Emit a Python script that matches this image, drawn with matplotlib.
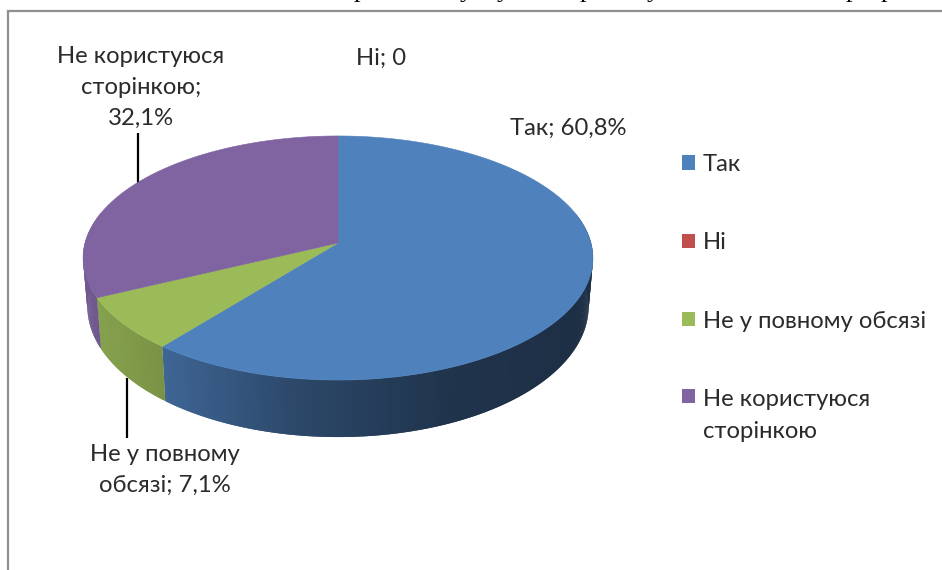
import numpy as np
import matplotlib
matplotlib.use("Agg")
import matplotlib.pyplot as plt
from matplotlib.patches import Patch, Polygon

categories = ["Так", "Ні", "Не у повному обсязі", "Не користуюся\nсторінкою"]
values = [60.8, 0, 7.1, 32.1]
colors = ["#4F81BD", "#C0504D", "#9BBB59", "#8064A2"]
label_texts = ["Так; 60,8%", "Ні; 0", "Не у повному\nобсязі; 7,1%", "Не користуюся\nсторінкою;\n32,1%"]
label_xy = [(568, 128), (381, 58), (165, 470), (141, 87)]
clipped_letters = ["р", "у", "у", "р", "у", "р", "р"]
clipped_x = [360, 466, 503, 586, 653, 852, 887]

FONT = ["Lato", "Open Sans", "DejaVu Sans"]
TXT = "#2b2b2b"
FS = 17.2

fig = plt.figure(figsize=(9.42, 5.70), dpi=100)
ax = fig.add_axes([0, 0, 1, 1])
ax.set_xlim(0, 942)
ax.set_ylim(570, 0)
ax.axis("off")

# pie geometry (perspective projection of a disc)
CX, CY, R, A, K = 338, 243, 253, 120.2, 0.123
DY, SY, SX = 47.4, 1.07, 0.983


def top_rim(theta):
    u, v = np.sin(theta), -np.cos(theta)
    d = 1 - K * v
    return CX + R * u / d, CY + A * v / d


def bottom_rim(theta):
    x, y = top_rim(theta)
    return CX + SX * (x - CX), CY + DY + SY * (y - CY)


def shade(x):
    return np.interp(x, [83, 165, 300, 450, 593], [0.88, 0.78, 0.55, 0.40, 0.36])


fractions = np.array(values) / sum(values)
edges = np.concatenate([[0], np.cumsum(fractions)]) * 2 * np.pi

# side walls: overlapping quads so no seams show in the gradient
for i, col in enumerate(colors):
    if values[i] == 0:
        continue
    base = np.array(matplotlib.colors.to_rgb(col))
    n = max(2, int(np.degrees(edges[i + 1] - edges[i])) + 1)
    th = np.linspace(edges[i], edges[i + 1], n * 2)
    for k in range(len(th) - 1):
        a, b = th[k], th[min(k + 2, len(th) - 1)]
        if -np.cos((th[k] + th[k + 1]) / 2) < -0.25:
            continue
        xa, ya = top_rim(a)
        xb, yb = top_rim(b)
        xc, yc = bottom_rim(b)
        xd, yd = bottom_rim(a)
        c = base * shade((xa + xb) / 2)
        ax.add_patch(Polygon([(xa, ya), (xb, yb), (xc, yc), (xd, yd)], closed=True,
                             facecolor=c, edgecolor="none", linewidth=0, zorder=2))

# top faces
for i, col in enumerate(colors):
    if values[i] == 0:
        continue
    th = np.linspace(edges[i], edges[i + 1], 240)
    x, y = top_rim(th)
    pts = np.column_stack([np.r_[CX, x], np.r_[CY, y]])
    ax.add_patch(Polygon(pts, closed=True, facecolor=col, edgecolor=col, linewidth=0.4, zorder=3))

# leader lines
ax.plot([138, 138], [133, 183], color="black", lw=1.6, zorder=1.5, solid_capstyle="butt")
ax.plot([127, 127], [378, 438], color="black", lw=1.6, zorder=1, solid_capstyle="butt")

# chart frame
ax.plot([8, 8, 942], [570, 11, 11], color="#8f8f8f", lw=1.6, zorder=1, solid_joinstyle="miter")

# data labels
for t, (x, y) in zip(label_texts, label_xy):
    ax.text(x, y, t, ha="center", va="center", fontsize=FS, family=FONT, color=TXT,
            linespacing=1.58, zorder=5)

# clipped line of page text above the chart
for ch, x in zip(clipped_letters, clipped_x):
    ax.text(x, -2.5, ch, ha="center", va="baseline", fontsize=19, family="Liberation Serif",
            color="black", zorder=5)

# legend
handles = [Patch(facecolor=c, edgecolor="none") for c in colors]
leg = ax.legend(handles, categories, loc="upper left", bbox_to_anchor=(682 / 942, 1 - 154 / 570),
                frameon=False, prop={"family": FONT, "size": FS}, labelcolor=TXT,
                handlelength=0.54, handleheight=0.54, handletextpad=0.33,
                labelspacing=2.40, borderpad=0, borderaxespad=0, alignment="left")
for t in leg.get_texts():
    t.set_linespacing(1.65)
h = leg.legend_handles[3]
h.set_y(h.get_y() + 14)

fig.savefig("out.png", dpi=100)
